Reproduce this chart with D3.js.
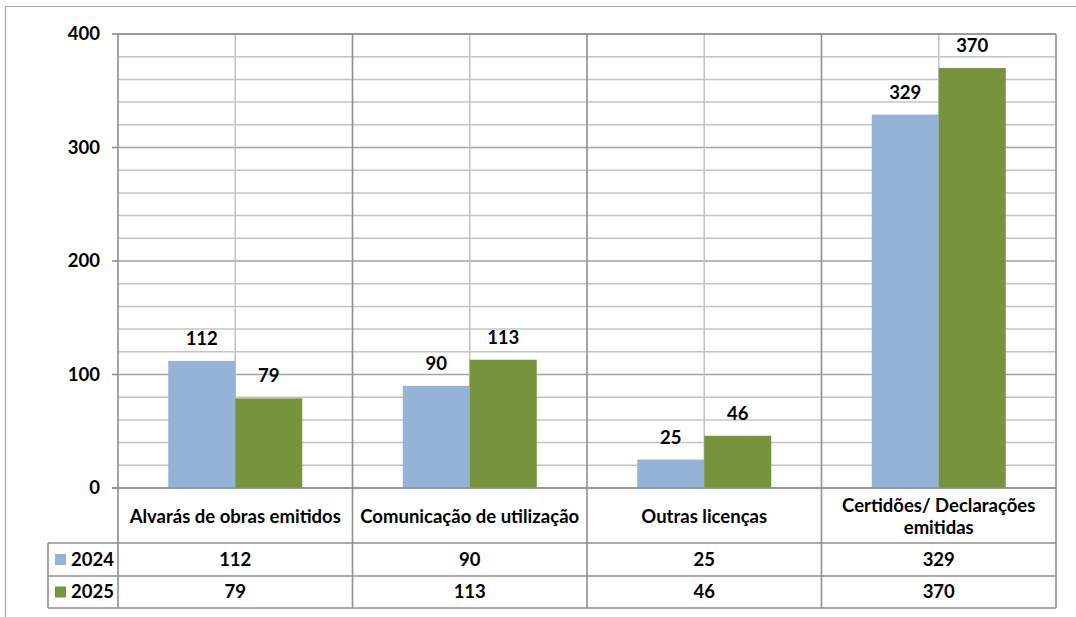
<!DOCTYPE html>
<html>
<head>
<meta charset="utf-8">
<script src="https://cdn.jsdelivr.net/npm/d3@7"></script>
<style>
  html, body { margin: 0; padding: 0; background: #fff; }
  svg { display: block; font-family: Lato, "Open Sans", sans-serif; }
</style>
</head>
<body>
<svg id="chart" width="1076" height="617"></svg>
<script>
const categories = ["Alvarás de obras emitidos", "Comunicação de utilização", "Outras licenças", "Certidões/ Declarações emitidas"];
const categoryLines = [["Alvarás de obras emitidos"], ["Comunicação de utilização"], ["Outras licenças"], ["Certidões/ Declarações", "emitidas"]];
const seriesNames = ["2024", "2025"];
const values2024 = [112, 90, 25, 329];
const values2025 = [79, 113, 46, 370];
const seriesColors = ["#95B3D7", "#77933C"];
const yTicks = [0, 100, 200, 300, 400];
const yMinorStep = 20;

const svg = d3.select("#chart");
const plotLeft = 118, plotRight = 1056, plotTop = 34, zeroY = 488;
const rowLabelBottom = 543, row1Bottom = 576, row2Bottom = 608, legendLeft = 48;
const FS = 18.5;

const x = d3.scaleBand().domain(categories).range([plotLeft, plotRight]).padding(0);
const bw = x.bandwidth();
const xs = d3.scaleBand().domain(seriesNames).range([bw * 0.2143, bw * 0.7857]).padding(0);
const y = d3.scaleLinear().domain([0, 400]).range([zeroY, plotTop]);

const series = seriesNames.map((s, i) => ({ name: s, values: i === 0 ? values2024 : values2025, color: seriesColors[i] }));

// outer chart border
svg.append("line").attr("x1", 5).attr("x2", 1076).attr("y1", 6.5).attr("y2", 6.5).attr("stroke", "#a6a6a6").attr("stroke-width", 1.2);
svg.append("line").attr("x1", 5.5).attr("x2", 5.5).attr("y1", 6).attr("y2", 617).attr("stroke", "#a6a6a6").attr("stroke-width", 1.2);

// horizontal gridlines
const minor = d3.range(0, 401, yMinorStep);
svg.append("g").selectAll("line").data(minor).join("line")
  .attr("x1", plotLeft).attr("x2", plotRight)
  .attr("y1", d => y(d)).attr("y2", d => y(d))
  .attr("stroke", d => d % 100 === 0 ? "#a3a3a3" : "#c4c4c4")
  .attr("stroke-width", 1.5);

// vertical center gridlines
svg.append("g").selectAll("line").data(categories).join("line")
  .attr("x1", d => x(d) + bw / 2).attr("x2", d => x(d) + bw / 2)
  .attr("y1", plotTop).attr("y2", zeroY)
  .attr("stroke", "#c4c4c4").attr("stroke-width", 1.5);

// bars
categories.forEach((c, ci) => {
  series.forEach(s => {
    const v = s.values[ci];
    svg.append("rect")
      .attr("x", x(c) + xs(s.name))
      .attr("y", y(v))
      .attr("width", xs.bandwidth())
      .attr("height", y(0) - y(v))
      .attr("fill", s.color);
    svg.append("text")
      .attr("x", x(c) + xs(s.name) + xs.bandwidth() / 2)
      .attr("y", y(v) - 16)
      .attr("text-anchor", "middle")
      .attr("font-size", FS).attr("font-weight", "bold").attr("fill", "#000")
      .text(v);
  });
});

// category boundary lines (plot + table)
const bounds = categories.map(c => x(c)).concat([plotRight]);
svg.append("g").selectAll("line").data(bounds).join("line")
  .attr("x1", d => d).attr("x2", d => d)
  .attr("y1", plotTop).attr("y2", row2Bottom)
  .attr("stroke", "#8f8f8f").attr("stroke-width", 1.6);

// top border of plot
svg.append("line").attr("x1", plotLeft).attr("x2", plotRight).attr("y1", plotTop).attr("y2", plotTop)
  .attr("stroke", "#8f8f8f").attr("stroke-width", 1.6);

// y axis ticks and labels
svg.append("g").selectAll("line").data(yTicks).join("line")
  .attr("x1", 112).attr("x2", plotLeft)
  .attr("y1", d => y(d)).attr("y2", d => y(d))
  .attr("stroke", "#8f8f8f").attr("stroke-width", 1.6);
svg.append("g").selectAll("text").data(yTicks).join("text")
  .attr("x", 100).attr("y", d => y(d)).attr("dy", "0.35em")
  .attr("text-anchor", "end")
  .attr("font-size", FS).attr("font-weight", "bold").attr("fill", "#000")
  .text(d => d);

// x axis line
svg.append("line").attr("x1", 112).attr("x2", plotRight).attr("y1", zeroY).attr("y2", zeroY)
  .attr("stroke", "#8f8f8f").attr("stroke-width", 1.6);

// table horizontal lines
[rowLabelBottom, row1Bottom, row2Bottom].forEach(yy => {
  svg.append("line").attr("x1", legendLeft).attr("x2", plotRight).attr("y1", yy).attr("y2", yy)
    .attr("stroke", "#8f8f8f").attr("stroke-width", 1.6);
});
svg.append("line").attr("x1", legendLeft).attr("x2", legendLeft).attr("y1", rowLabelBottom).attr("y2", row2Bottom)
  .attr("stroke", "#8f8f8f").attr("stroke-width", 1.6);

// category labels
categoryLines.forEach((lines, ci) => {
  const cx = x(categories[ci]) + bw / 2;
  const cy = (zeroY + rowLabelBottom) / 2 + 1;
  const lh = 22;
  lines.forEach((ln, li) => {
    svg.append("text")
      .attr("x", cx).attr("y", cy + (li - (lines.length - 1) / 2) * lh)
      .attr("dy", "0.35em").attr("text-anchor", "middle")
      .attr("font-size", FS).attr("font-weight", "bold").attr("fill", "#000")
      .text(ln);
  });
});

// table rows
const rows = [[rowLabelBottom, row1Bottom], [row1Bottom, row2Bottom]];
series.forEach((s, si) => {
  const cy = (rows[si][0] + rows[si][1]) / 2;
  svg.append("rect").attr("x", 55).attr("y", cy - 5.5).attr("width", 11).attr("height", 11).attr("fill", s.color);
  svg.append("text").attr("x", 71).attr("y", cy).attr("dy", "0.35em")
    .attr("font-size", FS).attr("font-weight", "bold").attr("fill", "#000").text(s.name);
  categories.forEach((c, ci) => {
    svg.append("text").attr("x", x(c) + bw / 2).attr("y", cy).attr("dy", "0.35em")
      .attr("text-anchor", "middle")
      .attr("font-size", FS).attr("font-weight", "bold").attr("fill", "#000")
      .text(s.values[ci]);
  });
});
</script>
</body>
</html>
